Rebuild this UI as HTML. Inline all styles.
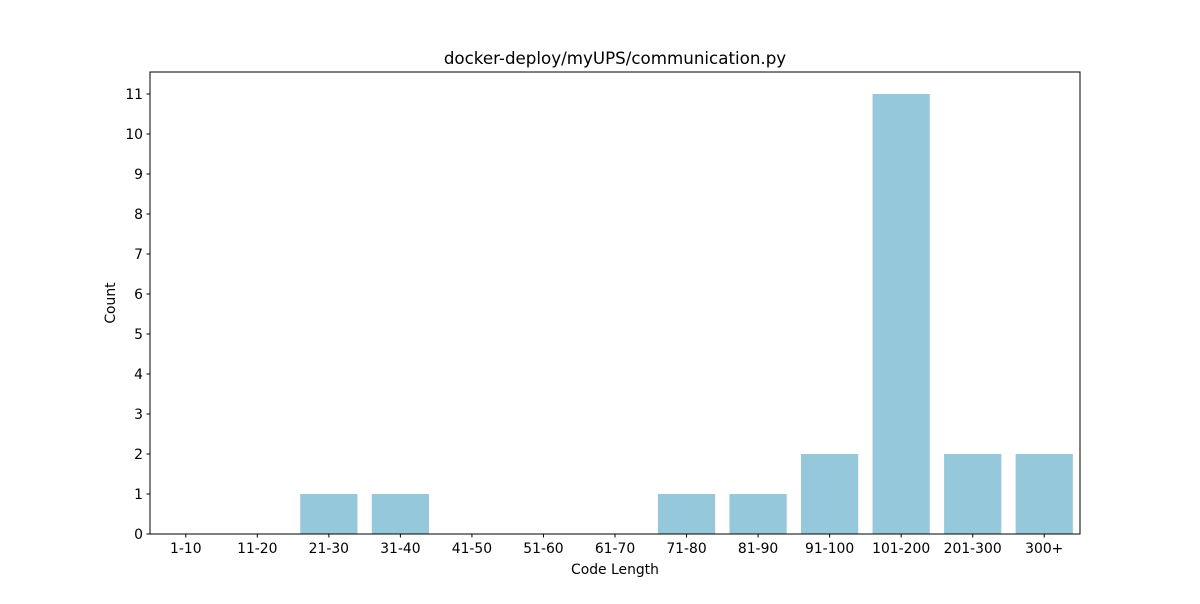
<!DOCTYPE html>
<html><head><meta charset="utf-8"><style>
body{margin:0;background:#fff;font-family:"DejaVu Sans","Liberation Sans",sans-serif;}
svg text{font-family:"DejaVu Sans","Liberation Sans",sans-serif;}
</style></head><body>
<svg id="c" width="1200" height="600" xmlns="http://www.w3.org/2000/svg">
<rect width="1200" height="600" fill="#fff"/>
</svg>
<script>
const categories=["1-10","11-20","21-30","31-40","41-50","51-60","61-70","71-80","81-90","91-100","101-200","201-300","300+"];
const counts=[0,0,1,1,0,0,0,1,1,2,11,2,2];
const yTicks=[0,1,2,3,4,5,6,7,8,9,10,11];
const svg=document.getElementById('c');
const NS="http://www.w3.org/2000/svg";
const L=150,R=1080,T=72,B=534,yMax=11.55;
const band=(R-L)/categories.length;
const x=i=>L+band*(i+0.5);
const y=v=>B-(v/yMax)*(B-T);
function mk(tag,attrs,txt){const e=document.createElementNS(NS,tag);for(const k in attrs)e.setAttribute(k,attrs[k]);if(txt!==undefined)e.textContent=txt;svg.appendChild(e);return e;}
counts.forEach((v,i)=>{
  const bw=band*0.8;
  const r=mk('rect',{x:x(i)-bw/2,y:y(v),width:bw,height:B-y(v),fill:'#96c8dc'});
  
  
});
const frame=mk('rect',{x:L,y:T,width:R-L,height:B-T,fill:'none',stroke:'#000','stroke-width':1});


categories.forEach((c,i)=>{
  mk('line',{x1:x(i),x2:x(i),y1:B,y2:B+3.5,stroke:'#000'});
  const t=mk('text',{x:x(i),y:B+19,'font-size':13.9,'text-anchor':'middle',fill:'#000'},c);
  
  
});
yTicks.forEach(v=>{
  mk('line',{x1:L-3.5,x2:L,y1:y(v),y2:y(v),stroke:'#000'});
  const t=mk('text',{x:L-7,y:y(v)+5,'font-size':13.9,'text-anchor':'end',fill:'#000'},v);
  
  
});
const xt=mk('text',{x:(L+R)/2,y:574,'font-size':13.9,'text-anchor':'middle'},'Code Length');


const yt=mk('text',{x:115,y:(T+B)/2,'font-size':13.9,'text-anchor':'middle',transform:'rotate(-90 115 '+((T+B)/2)+')'},'Count');


const ti=mk('text',{x:(L+R)/2,y:64,'font-size':16.7,'text-anchor':'middle'},'docker-deploy/myUPS/communication.py');


</script>
</body></html>
